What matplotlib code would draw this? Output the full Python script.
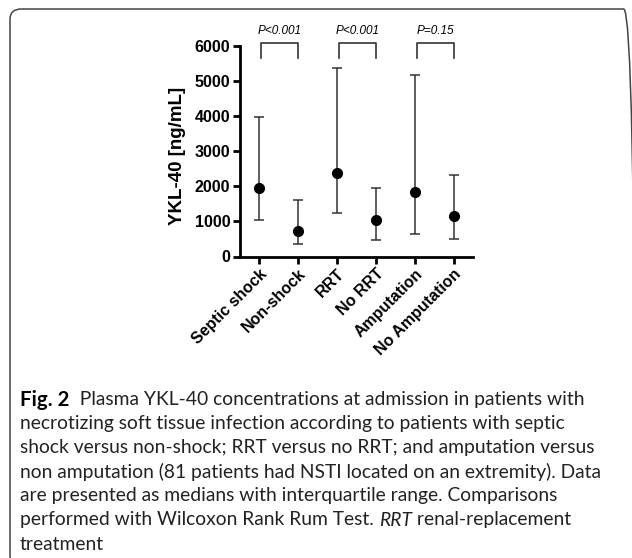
import numpy as np
import matplotlib
matplotlib.use("Agg")
import matplotlib.pyplot as plt
from matplotlib.patches import FancyBboxPatch

# data (medians with IQR, ng/mL)
groups = ["Septic shock", "Non-shock", "RRT", "No RRT", "Amputation", "No Amputation"]
medians = [1940, 716, 2374, 1029, 1834, 1152]
q1 = [1047, 355, 1237, 478, 631, 498]
q3 = [3966, 1606, 5350, 1956, 5152, 2309]
p_labels = ["P<0.001", "P<0.001", "P=0.15"]
yticks = [0, 1000, 2000, 3000, 4000, 5000, 6000]

caption_lines = [
    [("Fig. 2", "bold"), ("  Plasma YKL-40 concentrations at admission in patients with", "normal")],
    [("necrotizing soft tissue infection according to patients with septic", "normal")],
    [("shock versus non-shock; RRT versus no RRT; and amputation versus", "normal")],
    [("non amputation (81 patients had NSTI located on an extremity). Data", "normal")],
    [("are presented as medians with interquartile range. Comparisons", "normal")],
    [("performed with Wilcoxon Rank Rum Test. ", "normal"), ("RRT", "italic"),
     (" renal-replacement", "normal")],
    [("treatment", "normal")],
]

W, H = 632, 558
fig = plt.figure(figsize=(W / 100, H / 100), dpi=100)

# rounded frame around the figure + caption
frame = FancyBboxPatch((10 / W, 1 - 566 / H), 625 / W, 557 / H,
                       boxstyle="round,pad=0,rounding_size=0.018",
                       transform=fig.transFigure, fill=False,
                       edgecolor="#444444", linewidth=1.1, clip_on=False)
fig.patches.append(frame)

ax = fig.add_axes([240 / W, 1 - 256.5 / H, 233 / W, 211 / H])
x = np.arange(len(groups))
med = np.array(medians)
yerr = [med - np.array(q1), np.array(q3) - med]
ax.errorbar(x, med, yerr=yerr, fmt="o", color="black", ecolor="#333333",
            elinewidth=1.1, capsize=3.3, capthick=1.1, markersize=7)

tick_font = dict(fontweight="bold", fontsize=11.5, family="Liberation Sans")
ax.set_xlim(-0.5, 5.5)
ax.set_ylim(0, 6000)
ax.set_yticks(yticks)
ax.set_yticklabels([str(t) for t in yticks], **tick_font)
ax.set_xticks(x)
ax.set_xticklabels(groups, rotation=45, ha="right", rotation_mode="anchor",
                   **tick_font)
ax.tick_params(axis="both", direction="out", length=5, width=2, pad=2)
ax.spines["top"].set_visible(False)
ax.spines["right"].set_visible(False)
ax.spines["left"].set_linewidth(2)
ax.spines["bottom"].set_linewidth(2)
ax.set_ylabel("YKL-40 [ng/mL]", fontweight="bold", fontsize=13.5,
              family="Liberation Sans")
ax.yaxis.set_label_coords(-0.232, 0.476)

# significance brackets
for i, p in enumerate(p_labels):
    x0, x1 = 2 * i + 0.05, 2 * i + 1
    ax.plot([x0, x0, x1, x1], [5650, 6080, 6080, 5650], color="#333333",
            linewidth=1.2, clip_on=False)
    ax.text((x0 + x1) / 2, 6400, p, ha="center", va="center", fontsize=8.5,
            style="italic", family="Liberation Sans")

# caption, drawn piece by piece so bold / italic runs line up
cap_font = "Lato"
renderer = fig.canvas.get_renderer()
y0 = 400
for k, parts in enumerate(caption_lines):
    yy = 1 - (y0 + 24 * k) / H
    xx = 20 / W
    for txt, kind in parts:
        kw = dict(fontsize=13.9, family=cap_font, va="center", ha="left",
                  color="#222222")
        if kind == "bold":
            kw.update(fontweight="bold", fontsize=14.8, color="black")
        elif kind == "italic":
            kw.update(style="italic")
        t = fig.text(xx, yy, txt, **kw)
        bb = t.get_window_extent(renderer=renderer)
        xx = bb.x1 / W

fig.savefig("out.png", dpi=100)
